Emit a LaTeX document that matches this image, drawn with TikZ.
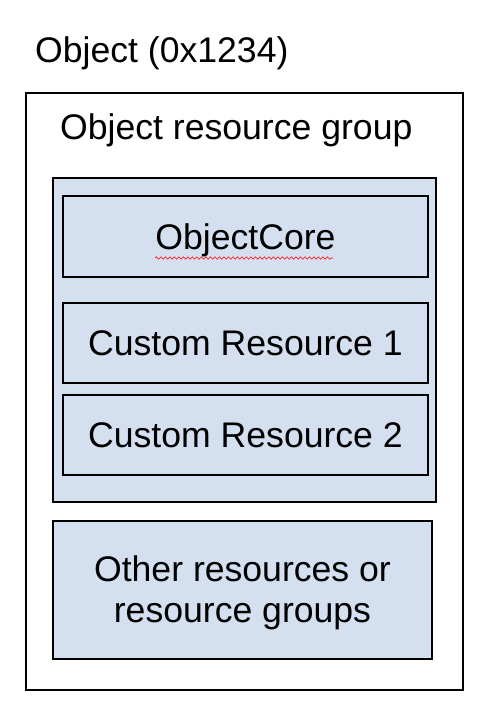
\documentclass[tikz,border=0pt]{standalone}
\usepackage{fontspec}
\setmainfont{Liberation Sans}
\usetikzlibrary{decorations.pathmorphing}

\definecolor{resblue}{RGB}{212,224,239}

\begin{document}
\begin{tikzpicture}[x=1pt,y=-1pt,
  box/.style={draw=black,line width=1.3pt,inner sep=0pt},
  resbox/.style={box,fill=resblue,text height=25pt,text depth=0pt},
  spell/.style={red,line width=0.6pt,decorate,decoration={snake,amplitude=1.2pt,segment length=4.5pt}}]
\tikzstyle{every node}+=[font=\fontsize{35.6}{40.5}\selectfont]
\useasboundingbox[fill=white] (0,0) rectangle (486,724);
\node [box,minimum width=437pt,minimum height=597pt] (object) at (244.5,391.5) {};
\node [anchor=base west,inner sep=0pt] (objlabel) at (35,62) {Object (0x1234)};
\node [anchor=base west,inner sep=0pt] (grouplabel) at (60,139) {Object resource group};
\node [box,fill=resblue,minimum width=383pt,minimum height=324pt] (group) at (244.5,340) {};
\node [resbox,minimum width=365pt,minimum height=81pt] (core) at (245.5,236.5) {ObjectCore};
\node [resbox,minimum width=365pt,minimum height=80pt] (custom1) at (245.5,343) {Custom Resource 1};
\node [resbox,minimum width=365pt,minimum height=80pt] (custom2) at (245.5,435) {Custom Resource 2};
\node [box,fill=resblue,align=center,minimum width=379pt,minimum height=138pt] (other) at (242.5,590) {};
\node [align=center,inner sep=0pt] (otherlabel) at (242.5,593) {Other resources or\\resource groups};
\draw [spell] (155,258) -- (333,258);
\end{tikzpicture}
\end{document}
